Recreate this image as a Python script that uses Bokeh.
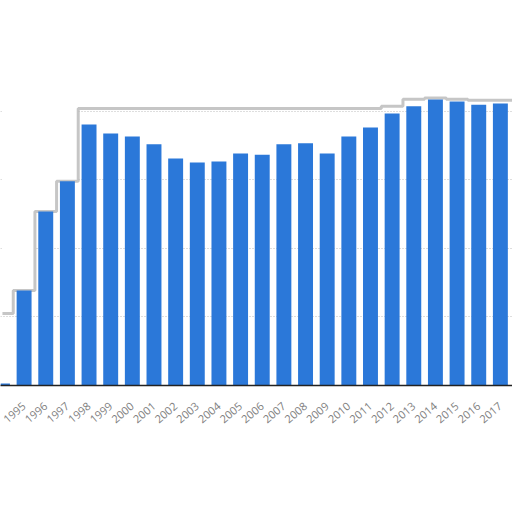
import math
from bokeh.plotting import figure
from bokeh.models import Range1d, FixedTicker, ColumnDataSource
from bokeh.embed import file_html
from bokeh.resources import INLINE

years = list(range(1994, 2019))
values = [0.6, 27.7, 50.8, 59.6, 76.2, 73.6, 72.7, 70.4, 66.3, 65.1, 65.4, 67.7,
          67.4, 70.4, 70.7, 67.7, 72.7, 75.3, 79.4, 81.5, 83.5, 82.9, 82.0, 82.3, 82.5]
envelope = [21.0, 27.7, 50.8, 59.6, 80.9, 80.9, 80.9, 80.9, 80.9, 80.9, 80.9, 80.9,
            80.9, 80.9, 80.9, 80.9, 80.9, 80.9, 81.5, 83.6, 83.9, 83.6, 83.3, 83.3, 83.3]
label_years = list(range(1995, 2018))
grid_ticks = [0, 20, 40, 60, 80]
y_top = 112.4

W, H = 512, 512
p = figure(width=W, height=H, output_backend="svg", toolbar_location=None,
           x_range=Range1d(1993.91, 2017.56), y_range=Range1d(0, y_top),
           min_border_left=0, min_border_right=0, min_border_top=0,
           min_border_bottom=127)
p.outline_line_color = None
p.background_fill_color = "white"
p.border_fill_color = "white"

src = ColumnDataSource(dict(x=years, top=values, env=envelope,
                            ceil=[y_top] * len(years)))
# white mask above the silhouette hides the grid outside it
p.varea_step(x="x", y1="env", y2="ceil", source=src, step_mode="center",
             fill_color="white")
p.step(x="x", y="env", source=src, mode="center", line_color="#b8b8b8",
       line_width=3, line_alpha=0.8)
p.vbar(x="x", top="top", width=0.69, source=src, fill_color="#2b78d9",
       line_color=None)

p.yaxis.visible = False
p.ygrid.ticker = FixedTicker(ticks=grid_ticks)
p.ygrid.grid_line_color = "#bdbdbd"
p.ygrid.grid_line_dash = "1 2"
p.ygrid.grid_line_width = 1
p.xgrid.grid_line_color = None

p.xaxis.ticker = FixedTicker(ticks=label_years)
p.xaxis.major_label_orientation = math.radians(40)
p.xaxis.major_tick_line_color = None
p.xaxis.minor_tick_line_color = None
p.xaxis.axis_line_color = "#222222"
p.xaxis.axis_line_width = 1.5
p.xaxis.major_label_text_color = "#808080"
p.xaxis.major_label_text_font = "Open Sans"
p.xaxis.major_label_text_font_size = "11px"
p.xaxis.major_label_standoff = 13

open("out.html", "w").write(file_html(p, INLINE))
